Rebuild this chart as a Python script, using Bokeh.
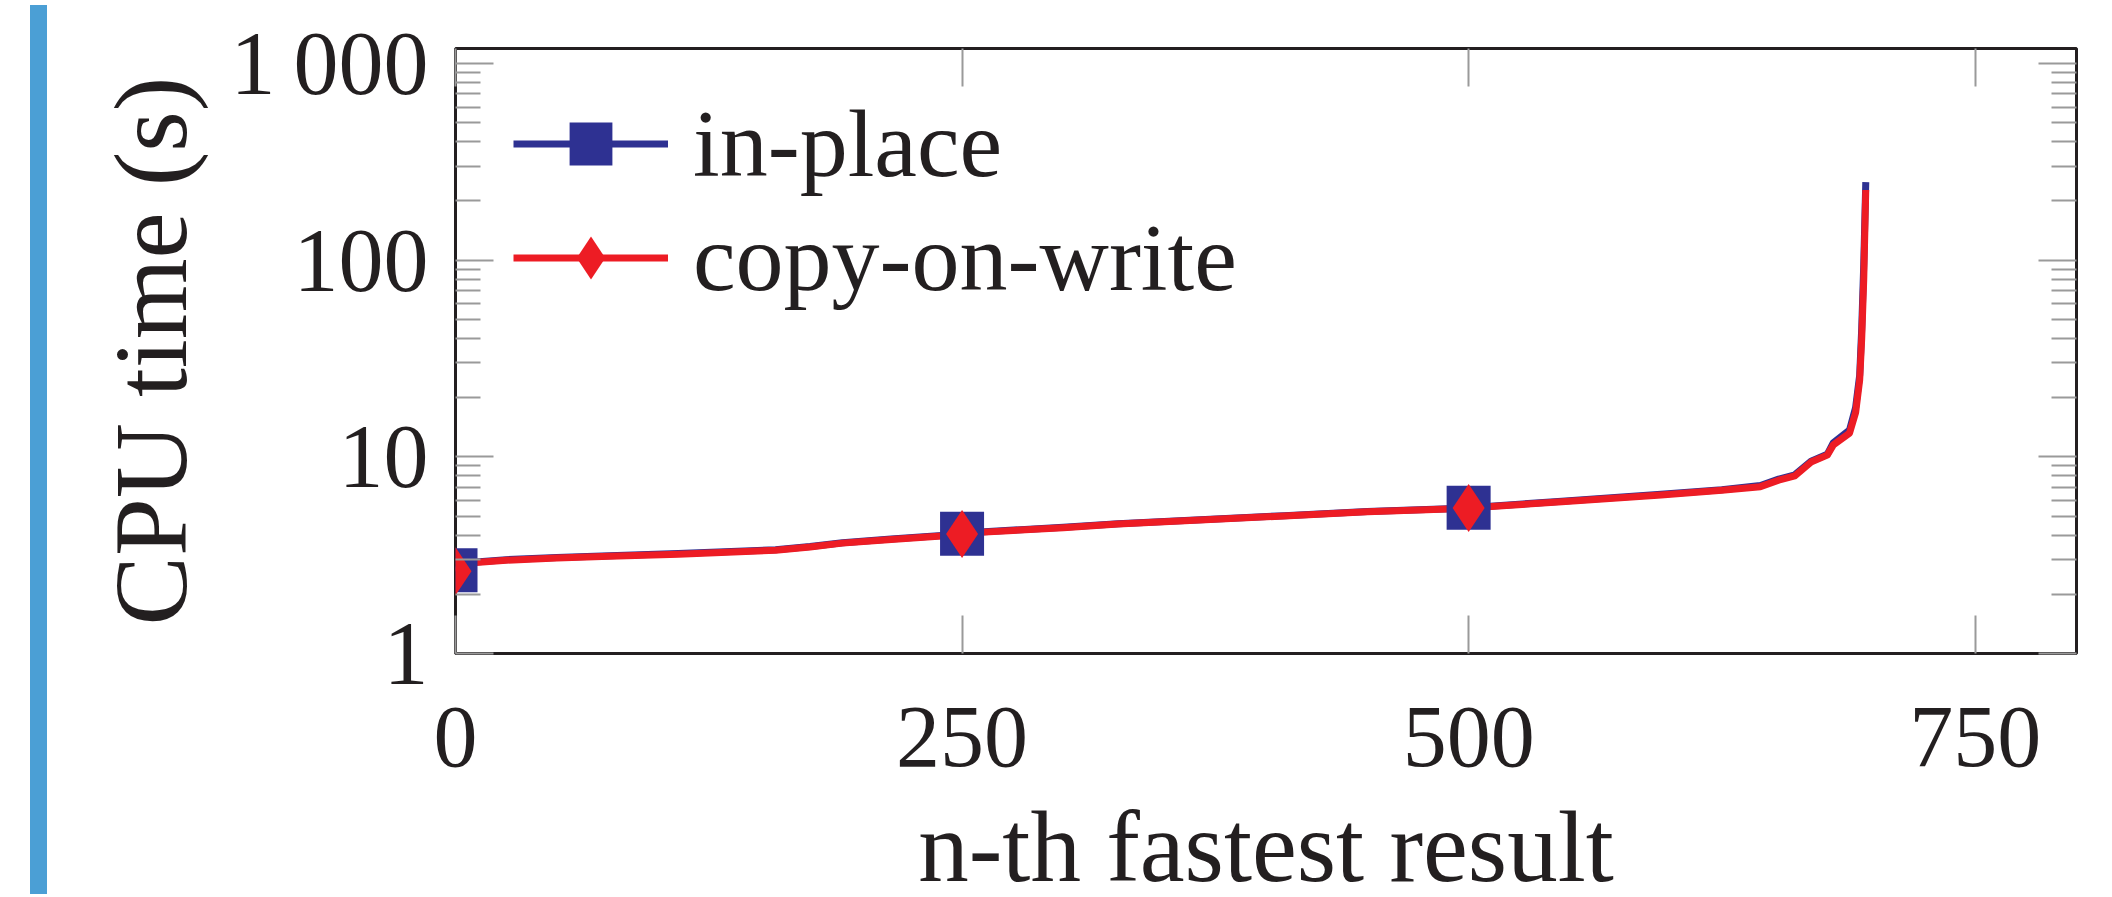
from bokeh.plotting import figure
from bokeh.models import (Range1d, LogAxis, LinearAxis, FixedTicker, Legend, LegendItem,
                          Div, Spacer)
from bokeh.layouts import row
from bokeh.embed import file_html
from bokeh.resources import INLINE

# ---------------- data ----------------
series_names = ["in-place", "copy-on-write"]

n_inplace = [0, 4, 10, 25, 50, 76, 110, 158, 175, 191, 215, 240, 250, 261, 300, 327, 370, 409,
             450, 490, 500, 546, 595, 625, 644, 653, 661, 669, 677, 680, 688, 691, 693, 694, 695, 696]
cpu_inplace = [2.65, 2.8, 2.92, 3.0, 3.08, 3.14, 3.22, 3.37, 3.5, 3.66, 3.82, 3.98, 4.06, 4.16,
               4.38, 4.57, 4.8, 5.02, 5.27, 5.45, 5.5, 5.95, 6.45, 6.8, 7.15, 7.7, 8.1, 9.5,
               10.3, 11.8, 13.7, 17.8, 26.0, 45.0, 95.0, 249.0]

n_cow = [0, 4, 10, 25, 50, 76, 110, 158, 175, 191, 215, 240, 250, 261, 300, 327, 370, 409,
         450, 490, 500, 546, 595, 625, 644, 653, 661, 669, 677, 680, 688, 691, 693, 694, 695, 696]
cpu_cow = [2.62, 2.78, 2.9, 2.98, 3.06, 3.12, 3.2, 3.35, 3.48, 3.64, 3.8, 3.96, 4.05, 4.14,
           4.36, 4.55, 4.78, 5.0, 5.25, 5.43, 5.49, 5.9, 6.4, 6.75, 7.05, 7.6, 8.0, 9.4,
           10.2, 11.5, 13.2, 16.8, 24.6, 40.0, 80.0, 227.0]

mark_every = 250

x_ticks = [0, 250, 500, 750]
x_tick_labels = ["0", "250", "500", "750"]
y_ticks = [1, 10, 100, 1000]
y_tick_labels = ["1", "10", "100", "1\u2009000"]
x_label = "n-th fastest result"
y_label = "CPU time (s)"

# ---------------- style ----------------
FONT = "Liberation Serif"
TXT = "#231f20"
BLUE = "#2e3192"
RED = "#ed1c24"
TICK = "#9a9a9a"
BAR = "#4b9fd5"

p = figure(frame_width=1621, frame_height=605,
           x_range=Range1d(0, 800), y_range=Range1d(1, 1190),
           y_axis_type="log",
           output_backend="svg", toolbar_location=None,
           min_border_left=403, min_border_right=22, min_border_top=48, min_border_bottom=220)

p.background_fill_color = "white"
p.border_fill_color = "white"
p.grid.visible = False
p.outline_line_color = TXT
p.outline_line_width = 3

minor_y = [d * m for d in (1, 10, 100) for m in range(2, 10)]
yticker = FixedTicker(ticks=y_ticks, minor_ticks=minor_y)
xticker = FixedTicker(ticks=x_ticks)


def style_axis(ax, labels=True):
    ax.axis_line_color = None
    ax.major_tick_in = 38
    ax.major_tick_out = 0
    ax.minor_tick_in = 25
    ax.minor_tick_out = 0
    ax.major_tick_line_color = TICK
    ax.minor_tick_line_color = TICK
    ax.major_tick_line_width = 2
    ax.minor_tick_line_width = 2
    ax.major_label_text_font = FONT
    ax.major_label_text_color = TXT
    ax.axis_label_text_font = FONT
    ax.axis_label_text_color = TXT
    ax.axis_label_text_font_style = "normal"
    ax.major_label_text_font_style = "normal"
    if not labels:
        ax.major_label_text_font_size = "1px"
        ax.major_label_text_color = None
        ax.major_label_text_alpha = 0
        ax.major_label_standoff = 0


xa = p.xaxis[0]
xa.ticker = xticker
style_axis(xa)
xa.minor_tick_line_color = None
xa.major_label_overrides = dict(zip(x_ticks, x_tick_labels))
xa.major_label_text_font_size = "88px"
xa.major_label_standoff = 54
xa.axis_label = x_label
xa.axis_label_text_font_size = "101px"
xa.axis_label_standoff = 22

ya = p.yaxis[0]
ya.ticker = yticker
style_axis(ya)
ya.major_label_overrides = dict(zip(y_ticks, y_tick_labels))
ya.major_label_text_font_size = "90px"
ya.major_label_standoff = 27
ya.axis_label = y_label
ya.axis_label_text_font_size = "104px"
ya.axis_label_standoff = 19

# mirrored axes (ticks only)
ra = LogAxis(ticker=yticker)
style_axis(ra, labels=False)
p.add_layout(ra, "right")
ta = LinearAxis(ticker=xticker)
style_axis(ta, labels=False)
ta.minor_tick_line_color = None
p.add_layout(ta, "above")

# ---------------- glyphs ----------------
l1 = p.line(n_inplace, cpu_inplace, line_color=BLUE, line_width=7, line_join="round")
l2 = p.line(n_cow, cpu_cow, line_color=RED, line_width=7, line_join="round")

mx1 = [x for x in n_inplace if x % mark_every == 0]
my1 = [y for x, y in zip(n_inplace, cpu_inplace) if x % mark_every == 0]
mx2 = [x for x in n_cow if x % mark_every == 0]
my2 = [y for x, y in zip(n_cow, cpu_cow) if x % mark_every == 0]

s1 = p.scatter(mx1, my1, marker="square", size=44, fill_color=BLUE, line_color=None)
s2 = p.scatter(mx2, my2, marker="diamond", size=48, fill_color=RED, line_color=None)

legend = Legend(items=[LegendItem(label=series_names[0], renderers=[l1, s1]),
                       LegendItem(label=series_names[1], renderers=[l2, s2])],
                location=(58, 340), orientation="vertical",
                glyph_width=155, glyph_height=107, spacing=3, padding=0, margin=0,
                label_standoff=25, label_text_font=FONT, label_text_font_size="96px",
                label_text_color=TXT, label_text_baseline="middle",
                background_fill_alpha=0, border_line_color=None)
p.add_layout(legend)

# blue side bar at the left edge of the page
gap = Spacer(width=25, height=889)
bar = Div(text="", width=17, height=889, styles={"background-color": BAR})

layout = row(gap, bar, p, spacing=0)

open("out.html", "w").write(file_html(layout, INLINE))
